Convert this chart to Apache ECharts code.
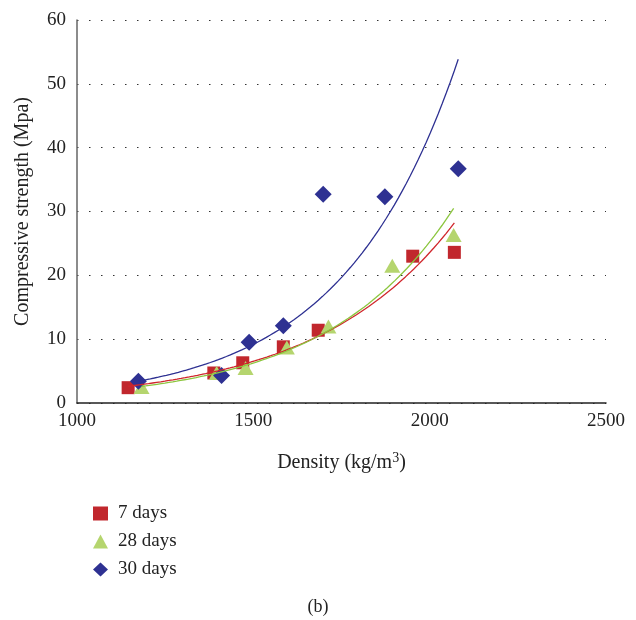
<!DOCTYPE html>
<html>
<head>
<meta charset="utf-8">
<script src="https://cdn.jsdelivr.net/npm/echarts@6/dist/echarts.min.js"></script>
<style>
  html, body { margin: 0; padding: 0; background: #fff; }
  #chart { width: 636px; height: 620px; }
</style>
</head>
<body>
<div id="chart"></div>
<script>
// Density (kg/m3) and compressive strength (MPa) per curing age
const days7X  = [1145, 1388, 1470, 1585, 1684, 1952, 2070];
const days7Y  = [2.4, 4.7, 6.3, 8.8, 11.4, 23.0, 23.6];
const days28X = [1183, 1396, 1478, 1595, 1713, 1894, 2068];
const days28Y = [2.5, 4.7, 5.5, 8.7, 12.0, 21.5, 26.3];
const days30X = [1174, 1410, 1488, 1585, 1698, 1873, 2081];
const days30Y = [3.4, 4.3, 9.5, 12.1, 32.7, 32.3, 36.7];

const seriesNames = ['7 days', '28 days', '30 days'];
const xTicks = [1000, 1500, 2000, 2500];
const yTicks = [0, 10, 20, 30, 40, 50, 60];

const FONT = '"Liberation Serif", "DejaVu Serif", serif';

function pairs(xs, ys) { return xs.map((x, i) => [x, ys[i]]); }

// Exponential trendline y = a*exp(b*x), least squares on ln(y)
function expTrend(xs, ys, steps) {
  const n = xs.length;
  const ly = ys.map(Math.log);
  const mx = xs.reduce((s, v) => s + v, 0) / n;
  const my = ly.reduce((s, v) => s + v, 0) / n;
  let sxy = 0, sxx = 0;
  for (let i = 0; i < n; i++) {
    sxy += (xs[i] - mx) * (ly[i] - my);
    sxx += (xs[i] - mx) * (xs[i] - mx);
  }
  const b = sxy / sxx;
  const lnA = my - b * mx;
  const x0 = Math.min(...xs), x1 = Math.max(...xs);
  const out = [];
  for (let k = 0; k <= steps; k++) {
    const x = x0 + (x1 - x0) * k / steps;
    out.push([x, Math.exp(lnA + b * x)]);
  }
  return out;
}

const markerColors = ['#C1272D', '#B5D56E', '#2E3192'];
const lineColors = ['#D0262C', '#8CC63F', '#2E3192'];
const symbols = ['rect', 'triangle', 'diamond'];
const symbolSizes = [13, [16, 14], 17];
const xsAll = [days7X, days28X, days30X];
const ysAll = [days7Y, days28Y, days30Y];

const series = [];
for (let i = 0; i < 3; i++) {
  series.push({
    name: seriesNames[i],
    type: 'scatter',
    data: pairs(xsAll[i], ysAll[i]),
    symbol: symbols[i],
    symbolSize: symbolSizes[i],
    itemStyle: { color: markerColors[i], opacity: 1 },
    z: 2
  });
}
for (let i = 0; i < 3; i++) {
  series.push({
    name: seriesNames[i] + ' trend',
    type: 'line',
    data: expTrend(xsAll[i], ysAll[i], 80),
    showSymbol: false,
    symbol: 'none',
    lineStyle: { color: lineColors[i], width: 1.3 },
    silent: true,
    z: 3
  });
}

const chart = echarts.init(document.getElementById('chart'), null, { renderer: 'canvas' });
chart.setOption({
  animation: false,
  backgroundColor: '#fff',
  textStyle: { fontFamily: FONT },
  title: {
    text: '(b)',
    left: 'center',
    top: 593,
    textStyle: { fontFamily: FONT, fontSize: 18, fontWeight: 'normal', color: '#222' }
  },
  grid: { left: 77, right: 30, top: 20, bottom: 217, containLabel: false, outerBoundsMode: 'none' },
  legend: {
    orient: 'vertical',
    left: 88,
    top: 499,
    itemWidth: 15,
    itemHeight: 14,
    itemGap: 9,
    textStyle: { fontFamily: FONT, fontSize: 19, color: '#222', padding: [0, 0, 0, 5] },
    data: seriesNames.map((n, i) => ({ name: n, icon: symbols[i], itemStyle: { color: markerColors[i] } }))
  },
  xAxis: {
    type: 'value',
    min: xTicks[0],
    max: xTicks[xTicks.length - 1],
    interval: xTicks[1] - xTicks[0],
    name: 'Density (kg/m{sup|3})',
    nameLocation: 'middle',
    nameGap: 48,
    nameTextStyle: {
      fontFamily: FONT, fontSize: 20, color: '#222',
      rich: { sup: { fontFamily: FONT, fontSize: 14, verticalAlign: 'top', padding: [0, 0, 10, 0], color: '#222' } }
    },
    axisLine: { show: true, onZero: false, lineStyle: { color: '#222', width: 1.5 } },
    axisTick: { show: false },
    splitLine: { show: false },
    axisLabel: { fontFamily: FONT, fontSize: 19, color: '#222', margin: 9, formatter: v => String(v) }
  },
  yAxis: {
    type: 'value',
    min: yTicks[0],
    max: yTicks[yTicks.length - 1],
    interval: yTicks[1] - yTicks[0],
    name: 'Compressive strength (Mpa)',
    nameLocation: 'middle',
    nameGap: 44,
    nameTextStyle: { fontFamily: FONT, fontSize: 20, color: '#222' },
    axisLine: { show: true, lineStyle: { color: '#666', width: 1.5 } },
    axisTick: { show: false },
    splitLine: { show: true, lineStyle: { color: '#333', width: 1, type: [1.5, 10.5] } },
    axisLabel: { fontFamily: FONT, fontSize: 19, color: '#222', margin: 11 }
  },
  series: series
});
</script>
</body>
</html>
